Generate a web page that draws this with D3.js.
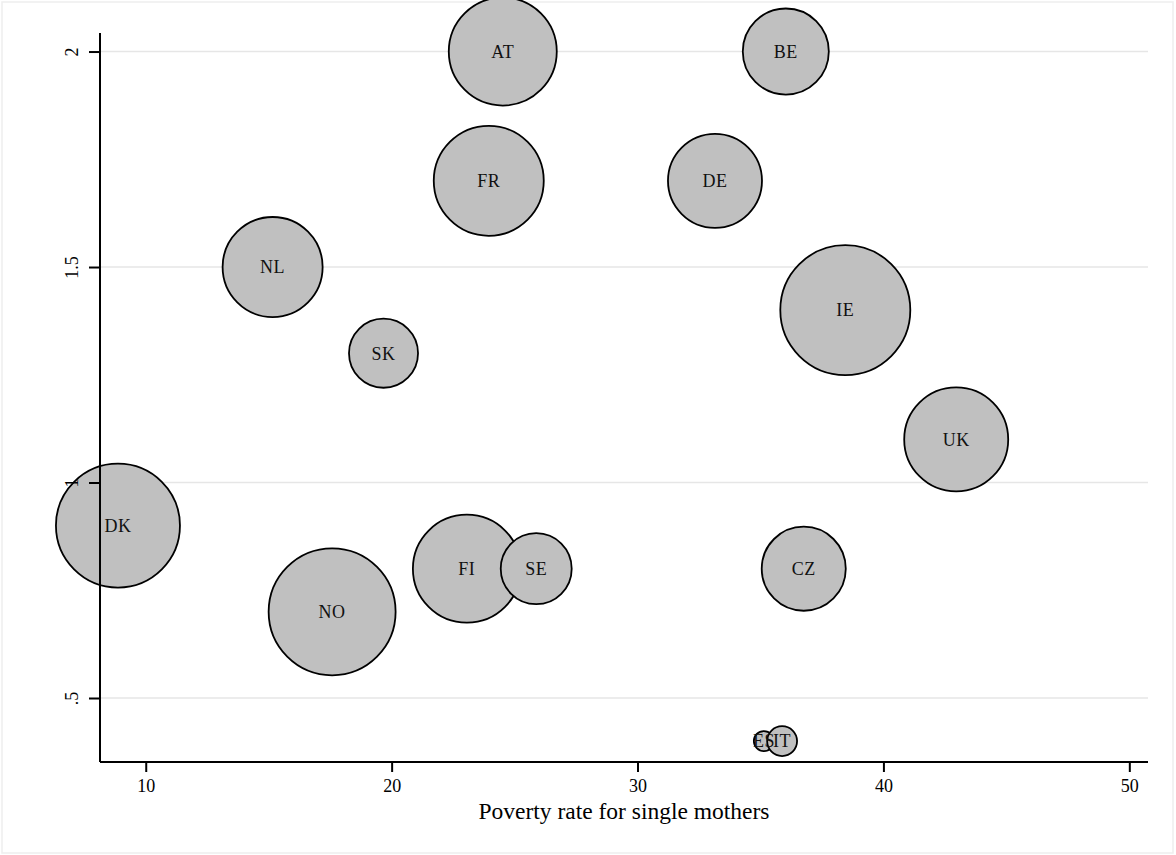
<!DOCTYPE html>
<html>
<head>
<meta charset="utf-8">
<script src="https://cdn.jsdelivr.net/npm/d3@7"></script>
<style>
  html, body { margin: 0; padding: 0; background: #fff; }
  svg { display: block; }
  text { font-family: "Liberation Serif", "DejaVu Serif", serif; }
</style>
</head>
<body>
<svg id="chart" width="1176" height="855"></svg>
<script>
// ---- data ----
const countries = ["AT","BE","CZ","DE","DK","ES","FI","FR","IE","IT","NL","NO","SE","SK","UK"];
const povertyRate = [24.52, 36.03, 36.76, 33.15, 8.87, 35.14, 23.06, 23.95, 38.45, 35.88, 15.16, 17.58, 25.88, 19.67, 42.96];
const yValue     = [2.0, 2.0, 0.8, 1.7, 0.9, 0.4, 0.8, 1.7, 1.4, 0.4, 1.5, 0.7, 0.8, 1.3, 1.1];
const weight     = [69, 43.8, 41.8, 52.3, 91, 2.4, 69, 71.6, 100, 5.3, 59.2, 95.4, 29.8, 28.2, 64];
const xTicks = [10, 20, 30, 40, 50];
const yTicks = [0.5, 1, 1.5, 2];
const yTickLabels = [".5", "1", "1.5", "2"];
const xTitle = "Poverty rate for single mothers";

const data = countries.map((c, i) => ({ c, x: povertyRate[i], y: yValue[i], w: weight[i] }));

// ---- layout ----
const svg = d3.select("#chart");
const W = 1176, H = 855;
const mLeft = 100, mRight = 1148, mTop = 33, mBottom = 762;

svg.append("rect").attr("x", 2).attr("y", 2).attr("width", W - 5).attr("height", H - 4)
  .attr("fill", "#fff").attr("stroke", "#eeeeee").attr("stroke-width", 1.5);

const x = d3.scaleLinear().domain([8.14, 50.76]).range([mLeft, mRight]);
const y = d3.scaleLinear().domain([0.3515, 2.043]).range([mBottom, mTop]);
const r = d3.scaleSqrt().domain([0, 100]).range([0, 65]);

// gridlines
svg.append("g").selectAll("line").data(yTicks).join("line")
  .attr("x1", mLeft).attr("x2", mRight)
  .attr("y1", d => y(d)).attr("y2", d => y(d))
  .attr("stroke", "#e6e6e6").attr("stroke-width", 1.5);

// bubbles
svg.append("g").selectAll("circle").data(data).join("circle")
  .attr("cx", d => x(d.x)).attr("cy", d => y(d.y)).attr("r", d => r(d.w))
  .attr("fill", "#c0c0c0").attr("stroke", "#000").attr("stroke-width", 1.8);

// axes
const xAxis = svg.append("g").attr("transform", `translate(0,${mBottom})`)
  .call(d3.axisBottom(x).tickValues(xTicks).tickSize(10).tickPadding(7).tickFormat(d3.format("d")));
xAxis.select(".domain").attr("d", `M${mLeft},0H${mRight}`).attr("stroke-width", 2);
xAxis.selectAll(".tick line").attr("stroke-width", 2);
xAxis.selectAll(".tick text").attr("font-size", 18).attr("fill", "#000")
  .attr("font-family", "Liberation Serif, serif");

const yAxis = svg.append("g").attr("transform", `translate(${mLeft},0)`)
  .call(d3.axisLeft(y).tickValues(yTicks).tickSize(11).tickFormat((d, i) => yTickLabels[i]));
yAxis.select(".domain").attr("d", `M0,${mTop}V${mBottom}`).attr("stroke-width", 2);
yAxis.selectAll(".tick line").attr("stroke-width", 2);
yAxis.selectAll(".tick text")
  .attr("x", 0).attr("y", 0).attr("dy", 0)
  .attr("transform", "translate(-22,0) rotate(-90)")
  .attr("text-anchor", "middle")
  .attr("font-size", 18).attr("fill", "#000")
  .attr("font-family", "Liberation Serif, serif");

// labels on top
svg.append("g").selectAll("text").data(data).join("text")
  .attr("x", d => x(d.x)).attr("y", d => y(d.y)).attr("dy", "0.35em")
  .attr("text-anchor", "middle").attr("font-size", 18).attr("letter-spacing", 0.5).attr("fill", "#111")
  .text(d => d.c);

// axis title
svg.append("text").attr("x", (mLeft + mRight) / 2).attr("y", 819)
  .attr("text-anchor", "middle").attr("font-size", 23.5).attr("fill", "#000")
  .text(xTitle);
</script>
</body>
</html>
